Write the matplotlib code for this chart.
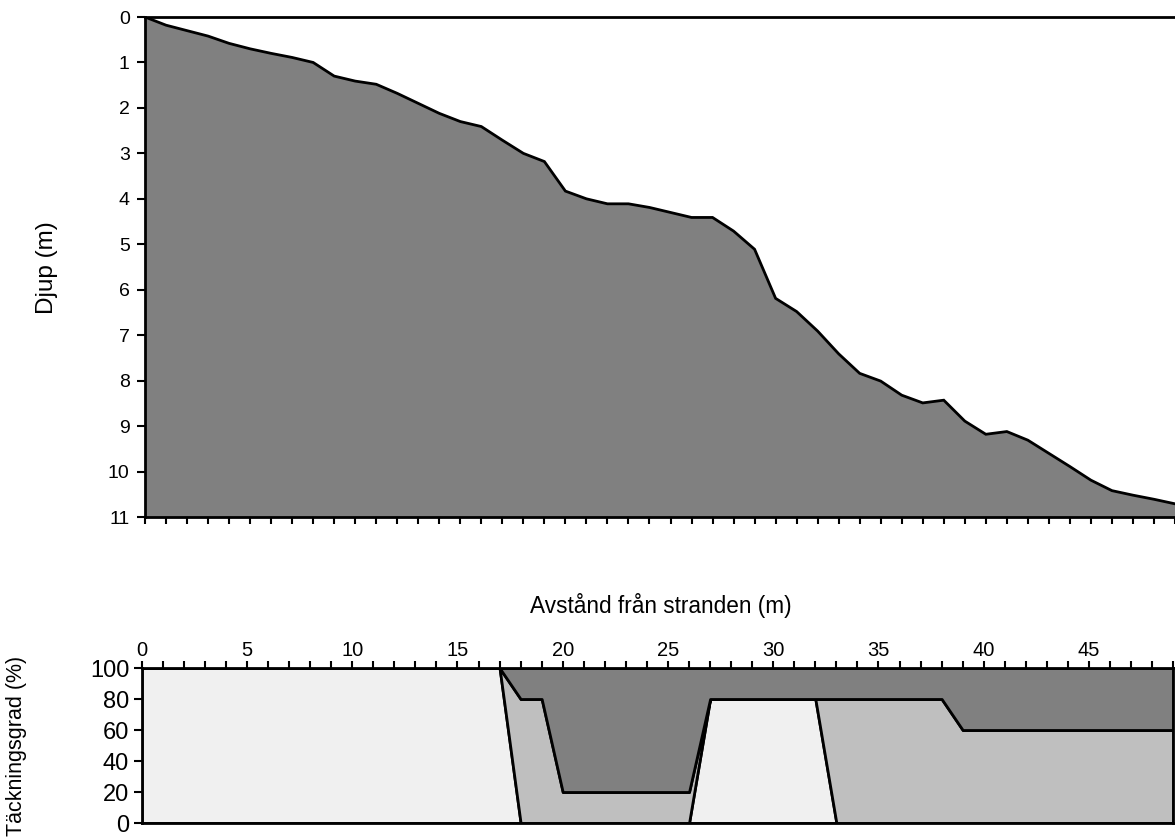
"""Djupprofil och täckningsgrad längs transekten"""

import numpy as np
import matplotlib.pyplot as plt
from matplotlib.ticker import MultipleLocator, FixedLocator

plt.rcParams['font.family'] = ['Liberation Sans', 'DejaVu Sans']

# Avstånd från stranden [m]
avstand = np.arange(0, 50)

# Djup [m] vid varje meter
djup = [0.0, 0.18, 0.30, 0.42, 0.58, 0.70, 0.80, 0.89, 1.00, 1.30,
        1.41, 1.48, 1.68, 1.90, 2.12, 2.30, 2.41, 2.71, 3.00, 3.18,
        3.83, 4.00, 4.11, 4.11, 4.19, 4.30, 4.41, 4.41, 4.71, 5.11,
        6.19, 6.48, 6.91, 7.41, 7.84, 8.01, 8.32, 8.49, 8.43, 8.89,
        9.18, 9.12, 9.31, 9.60, 9.89, 10.19, 10.42, 10.52, 10.61, 10.71]

# Täckningsgrad [%] för de tre klasserna (staplade)
klass_1 = [100] * 18 + [0] * 9 + [80] * 6 + [0] * 17
klass_2 = [0] * 18 + [80, 80] + [20] * 7 + [0] * 6 + [80] * 6 + [60] * 11
klass_3 = [0] * 18 + [20, 20] + [80] * 7 + [20] * 6 + [20] * 6 + [40] * 11

fig = plt.figure(figsize=(11.75, 8.38), dpi=100)

# --- Djupprofil ---
ax1 = fig.add_axes([145 / 1175, 1 - 517 / 838, 1 - 145 / 1175, 500 / 838])
ax1.fill_between(avstand, djup, 11, facecolor='#808080', edgecolor='none')
ax1.plot(avstand, djup, color='black', lw=2, solid_joinstyle='miter')
ax1.set_xlim(0, 49)
ax1.set_ylim(11, 0)
ax1.yaxis.set_major_locator(MultipleLocator(1))
ax1.xaxis.set_major_locator(MultipleLocator(1))
ax1.tick_params(axis='x', direction='out', length=5, width=1.5, labelbottom=False)
ax1.tick_params(axis='y', direction='out', length=6, width=1.5, labelsize=14, pad=5)
ax1.spines['right'].set_visible(False)
for s in ['left', 'bottom', 'top']:
    ax1.spines[s].set_linewidth(2)

# --- Täckningsgrad ---
ax2 = fig.add_axes([141.7 / 1175, 1 - 823 / 838, 1031.5 / 1175, 155 / 838])
ax2.stackplot(avstand, klass_1, klass_2, klass_3,
              colors=['#f0f0f0', '#bfbfbf', '#808080'],
              edgecolor='black', linewidth=2)
ax2.set_xlim(0, 49)
ax2.set_ylim(0, 100)
ax2.xaxis.tick_top()
ax2.xaxis.set_major_locator(FixedLocator(range(0, 46, 5)))
ax2.xaxis.set_minor_locator(MultipleLocator(1))
ax2.yaxis.set_major_locator(MultipleLocator(20))
ax2.tick_params(axis='x', which='both', direction='out', length=5, width=1.5,
                labelsize=14.5, pad=1)
ax2.tick_params(axis='y', direction='out', length=6, width=1.5, labelsize=17, pad=3)
for s in ax2.spines.values():
    s.set_linewidth(2)

fig.text(661 / 1175, 1 - 605 / 838, 'Avstånd från stranden (m)', fontsize=16.3,
         ha='center', va='center')
fig.text(47 / 1175, 1 - 268 / 838, 'Djup (m)', fontsize=17.5, rotation=90,
         ha='center', va='center')
fig.text(17 / 1175, 1 - 746 / 838, 'Täckningsgrad (%)', fontsize=15.5, rotation=90,
         ha='center', va='center')

fig.savefig('out.png', dpi=100)
